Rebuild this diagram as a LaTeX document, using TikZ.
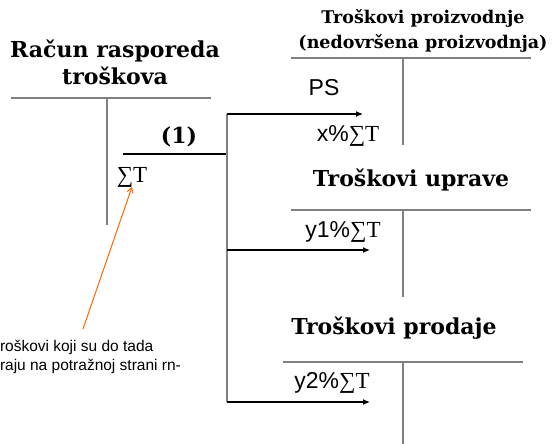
\documentclass[tikz,border=0pt]{standalone}
\usepackage{fontspec}
\usepackage{tikz}
\usetikzlibrary{arrows.meta}
\setmainfont{Liberation Sans}
\newfontfamily\headfont{DejaVu Serif}
\newfontfamily\sumfont{Liberation Serif}
\newcommand{\sumT}{{\sumfont ∑T}}

\begin{document}
\begin{tikzpicture}[x=1pt,y=-1pt,
  every node/.style={inner sep=0pt, outer sep=0pt},
  head/.style={font=\headfont\bfseries\fontsize{22}{27}\selectfont, align=center},
  konto/.style={draw=gray, line width=1.6pt},
  tok/.style={draw=black, line width=1.1pt},
  lbl/.style={font=\fontsize{23}{26}\selectfont}]
\useasboundingbox (0,0) rectangle (552,444);

\node[head] (rrt) at (115,62) {Račun rasporeda\\troškova};
\node[head, font=\headfont\bfseries\fontsize{17.5}{25}\selectfont] (tpr) at (423,31) {Troškovi proizvodnje\\(nedovršena proizvodnja)};
\node[head] (tup) at (411,180) {Troškovi uprave};
\node[head] (tpd) at (394,328) {Troškovi prodaje};

\node[head] (jedan) at (179,137) {(1)};
\node[lbl, font=\sumfont\fontsize{23}{26}\selectfont] (sumT) at (132,177) {∑T};
\node[lbl] (ps) at (324,88) {PS};
\node[lbl] (xT) at (348,136) {x\%\sumT};
\node[lbl] (y1T) at (343,232) {y1\%\sumT};
\node[lbl] (y2T) at (332,383) {y2\%\sumT};

\node[anchor=west, align=left, font=\fontsize{15.5}{19}\selectfont] (napomena) at (0,357) {roškovi koji su do tada\\raju na potražnoj strani rn-};

\draw[konto] (11,98) -- (211,98);
\draw[konto] (107,98) -- (107,225);
\draw[konto] (291,58) -- (531,58);
\draw[konto] (403,58) -- (403,145);
\draw[konto] (291,210) -- (531,210);
\draw[konto] (403,210) -- (403,297);
\draw[konto] (283,362) -- (523,362);
\draw[konto] (403,362) -- (403,444);

\coordinate (k1) at (123,154);
\coordinate (r1) at (227,154);
\coordinate (v1) at (227,114);
\coordinate (v2) at (227,250);
\coordinate (v3) at (227,402);
\coordinate (e1) at (363,114);
\coordinate (e2) at (370,250);
\coordinate (e3) at (370,402);
\draw[tok] (k1) -- (r1);
\draw[konto, line width=1.4pt] (v1) -- (v3);
\draw[tok, -{Latex[length=7pt,width=6pt]}] (v1) -- (e1);
\draw[tok, -{Latex[length=7pt,width=6pt]}] (v2) -- (e2);
\draw[tok, -{Latex[length=7pt,width=6pt]}] (v3) -- (e3);

\coordinate (n1) at (83,329);
\draw[color={rgb,255:red,255;green,102;blue,0}, line width=1pt, -{Straight Barb[length=5pt,width=6pt]}] (n1) -- (sumT.south);
\end{tikzpicture}
\end{document}
